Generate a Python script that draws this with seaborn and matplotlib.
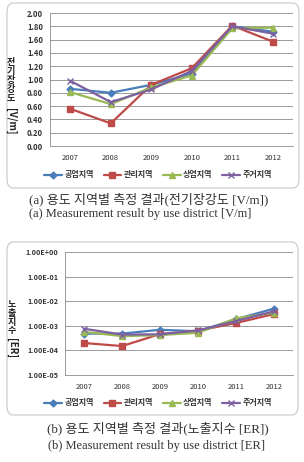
import pandas as pd
import numpy as np
import seaborn as sns
import matplotlib.pyplot as plt
from matplotlib.patches import FancyBboxPatch
from matplotlib.ticker import FuncFormatter, FixedLocator

# 데이터
years = ["2007", "2008", "2009", "2010", "2011", "2012"]
districts = ["공업지역", "관리지역", "상업지역", "주거지역"]

# (a) 전기장강도 [V/m]
field_gongup = [0.86, 0.80, 0.92, 1.09, 1.80, 1.72]
field_gwanri = [0.56, 0.34, 0.92, 1.17, 1.81, 1.57]
field_sangup = [0.81, 0.63, 0.88, 1.06, 1.77, 1.78]
field_jugeo = [0.98, 0.66, 0.85, 1.13, 1.80, 1.69]

# (b) 노출지수 [ER]
er_gongup = [4.8e-4, 4.8e-4, 6.9e-4, 6.0e-4, 1.86e-3, 5.0e-3]
er_gwanri = [2.0e-4, 1.5e-4, 4.6e-4, 6.3e-4, 1.3e-3, 3.0e-3]
er_sangup = [5.7e-4, 3.8e-4, 4.2e-4, 5.2e-4, 2.0e-3, 3.4e-3]
er_jugeo = [7.6e-4, 4.4e-4, 4.5e-4, 6.5e-4, 1.55e-3, 3.9e-3]

colors = ["#4A7EBB", "#BE4B48", "#98B954", "#7D60A0"]
markers = ["D", "s", "^", "x"]
msizes = [3.5, 5, 5, 5]


def to_long(series_list):
    rows = []
    for name, vals in zip(districts, series_list):
        for i, v in enumerate(vals):
            rows.append({"idx": i, "value": v, "district": name})
    return pd.DataFrame(rows)


sns.set_theme(style="white")
plt.rcParams['font.family'] = ['Noto Sans CJK KR', 'DejaVu Sans']

fig = plt.figure(figsize=(3.04, 4.62), dpi=100)

# 둥근 테두리
for (x0, y0, x1, y1) in [(7, 3, 299, 188), (7, 242, 298, 415)]:
    box = FancyBboxPatch((x0 / 304, 1 - y1 / 462), (x1 - x0) / 304, (y1 - y0) / 462,
                         boxstyle="round,pad=0,rounding_size=0.02",
                         transform=fig.transFigure, fill=False,
                         edgecolor="#C8C8C8", linewidth=0.8)
    fig.patches.append(box)


def draw_panel(ax, df):
    for name, c, m, ms in zip(districts, colors, markers, msizes):
        sub = df[df["district"] == name]
        sns.lineplot(data=sub, x="idx", y="value", ax=ax, color=c, marker=m,
                     markersize=ms, markeredgecolor=c, markeredgewidth=1.0,
                     linewidth=1.6, label=name, legend=False)
    ax.set_xlim(-0.5, 5.5)
    ax.set_xticks(range(len(years)))
    ax.set_xticklabels(years)
    ax.set_xlabel("")
    ax.set_ylabel("")
    ax.grid(axis="y", color="#8C8C8C", linewidth=0.6)
    ax.grid(axis="x", visible=False)
    for s in ["top", "right"]:
        ax.spines[s].set_visible(False)
    for s in ["left", "bottom"]:
        ax.spines[s].set_color("#8C8C8C")
        ax.spines[s].set_linewidth(0.6)
    ax.tick_params(axis="both", labelsize=5.5, length=2, color="#8C8C8C", pad=3)
    ax.tick_params(axis="x", length=0, pad=6)
    for lab in ax.get_xticklabels():
        lab.set_color("#333333")


# (a)
ax1 = fig.add_axes([50 / 304, 1 - 146 / 462, 243 / 304, 133 / 462])
draw_panel(ax1, to_long([field_gongup, field_gwanri, field_sangup, field_jugeo]))
ax1.set_ylim(0, 2.0)
ax1.set_yticks(np.arange(0, 2.01, 0.2))
ax1.yaxis.set_major_formatter(FuncFormatter(lambda v, p: f"{v:.2f}"))
for lab in ax1.get_yticklabels():
    lab.set_fontweight("bold")
    lab.set_color("#333333")

# (b)
ax2 = fig.add_axes([65 / 304, 1 - 375 / 462, 228 / 304, 123 / 462])
draw_panel(ax2, to_long([er_gongup, er_gwanri, er_sangup, er_jugeo]))
ax2.set_yscale("log")
ax2.set_ylim(1e-5, 1)
ax2.yaxis.set_major_locator(FixedLocator([1e-5, 1e-4, 1e-3, 1e-2, 1e-1, 1]))
ax2.yaxis.set_minor_locator(FixedLocator([]))
ax2.yaxis.set_major_formatter(FuncFormatter(lambda v, p: f"{v:.2E}"))
for lab in ax2.get_yticklabels():
    lab.set_fontweight("bold")
    lab.set_fontsize(5.2)
    lab.set_color("#333333")

# 범례
for ax, ly in [(ax1, 1 - 175 / 462), (ax2, 1 - 403 / 462)]:
    handles, labels = ax.get_legend_handles_labels()
    leg = fig.legend(handles, labels, loc="center", bbox_to_anchor=(0.52, ly),
                     ncol=4, frameon=False, fontsize=5.8, handlelength=2.2,
                     columnspacing=1.2, handletextpad=0.3)
    for t in leg.get_texts():
        t.set_fontweight("bold")
        t.set_color("#333333")


# y축 제목 (세로 쓰기: 한 글자씩)
def vertical_label(x, y_top, step, chars, unit, unit_y):
    for i, ch in enumerate(chars):
        fig.text(x / 304, 1 - (y_top + step * i) / 462, ch, ha="center", va="center",
                 fontsize=6.5, fontweight="bold", color="#222222")
    fig.text(x / 304, 1 - unit_y / 462, unit, ha="center", va="center", rotation=270,
             fontsize=7, fontweight="bold", color="#222222")


vertical_label(11, 62.5, 9, "전기장강도", "[V/m]", 121)
vertical_label(12, 305, 8.6, "노출지수", "[ER]", 348)

# 캡션
cap_font = ['Liberation Serif', 'Noto Sans CJK KR']
fig.text(0.49, 1 - 199 / 462, "(a) 용도 지역별 측정 결과(전기장강도 [V/m])",
         ha="center", va="center", fontsize=9.4, family=cap_font, color="#333333")
fig.text(0.46, 1 - 214 / 462, "(a) Measurement result by use district [V/m]",
         ha="center", va="center", fontsize=9, family=cap_font, color="#333333")
fig.text(0.52, 1 - 428 / 462, "(b) 용도 지역별 측정 결과(노출지수 [ER])",
         ha="center", va="center", fontsize=9.4, family=cap_font, color="#333333")
fig.text(0.515, 1 - 446 / 462, "(b) Measurement result by use district [ER]",
         ha="center", va="center", fontsize=9, family=cap_font, color="#333333")

fig.savefig("out.png", dpi=100)
